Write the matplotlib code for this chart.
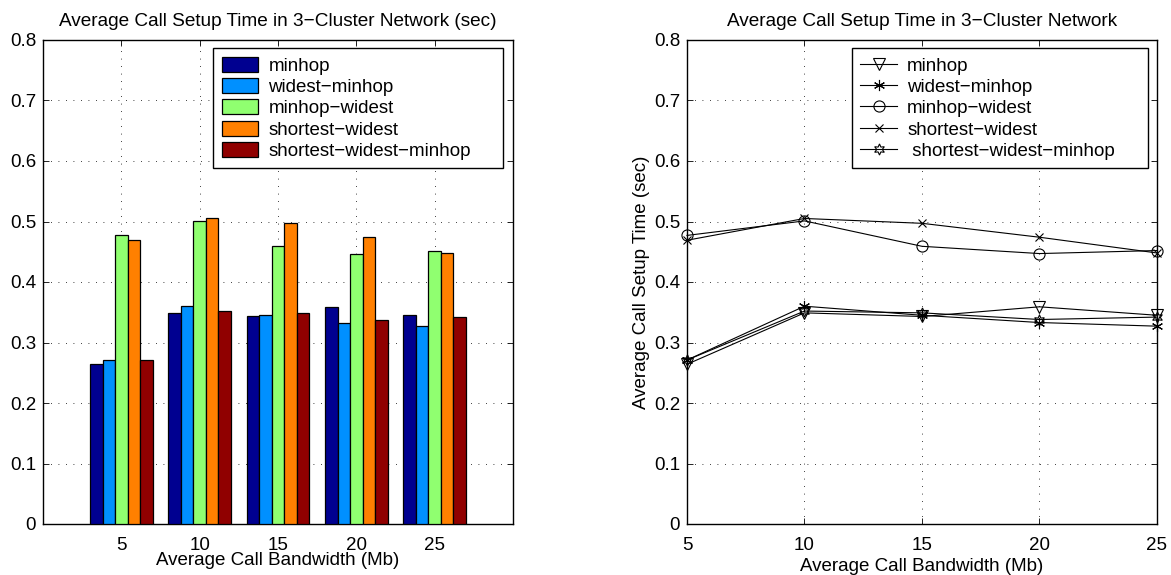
import numpy as np
import matplotlib
matplotlib.use("Agg")
import matplotlib.pyplot as plt

plt.rcParams["font.family"] = ["Liberation Sans", "DejaVu Sans"]
plt.rcParams["font.size"] = 13.5

# data
bandwidth = [5, 10, 15, 20, 25]
schemes = ["minhop", "widest−minhop", "minhop−widest", "shortest−widest", "shortest−widest−minhop"]
minhop = [0.264, 0.349, 0.343, 0.359, 0.345]
widest_minhop = [0.271, 0.360, 0.345, 0.333, 0.327]
minhop_widest = [0.477, 0.501, 0.459, 0.447, 0.452]
shortest_widest = [0.469, 0.505, 0.497, 0.474, 0.448]
shortest_widest_minhop = [0.271, 0.352, 0.349, 0.338, 0.342]
series = [minhop, widest_minhop, minhop_widest, shortest_widest, shortest_widest_minhop]

bar_colors = ["#000090", "#0090FF", "#90FF70", "#FF8000", "#900000"]
markers = ["v", (6, 2, 0), "o", "x", (6, 1, 0)]
marker_sizes = [8, 8, 8, 6, 8]
line_labels = ["minhop", "widest−minhop", "minhop−widest", "shortest−widest", " shortest−widest−minhop"]

W, H = 1171, 575
fig = plt.figure(figsize=(W / 100, H / 100), dpi=100)


def style_axes(ax):
    ax.grid(True, linestyle=(0, (1, 8)), color="black", linewidth=0.6)
    ax.tick_params(direction="in", top=True, right=True, length=4, width=0.6)
    ax.tick_params(axis="x", pad=9)
    ax.tick_params(axis="y", pad=5)
    for s in ax.spines.values():
        s.set_linewidth(1.0)
    ax.set_ylim(0, 0.8)
    ax.set_yticks(np.arange(0, 0.81, 0.1))
    ax.set_yticklabels(["0", "0.1", "0.2", "0.3", "0.4", "0.5", "0.6", "0.7", "0.8"])


def style_legend(ax, x0, w):
    # wide box like matlab's, extra room on the right
    leg = ax.legend(loc="upper left", bbox_to_anchor=(x0, 0.0, w, 0.983), mode="expand",
                    fancybox=False, edgecolor="black", handlelength=1.95, handleheight=0.85,
                    labelspacing=0.18, borderpad=0.45, handletextpad=0.55, framealpha=1,
                    borderaxespad=0, fontsize=13.5)
    leg.get_frame().set_linewidth(1.0)
    return leg


# left: grouped bars
ax1 = fig.add_axes([43 / W, 51 / H, 470 / W, 484 / H])
bw = 0.8
for i, (vals, col, lab) in enumerate(zip(series, bar_colors, schemes)):
    x = np.array(bandwidth) + (i - 2) * bw
    ax1.bar(x, vals, width=bw, color=col, edgecolor="black", linewidth=0.9, label=lab, zorder=3)
ax1.set_xlim(0, 30)
ax1.set_xticks(bandwidth)
style_axes(ax1)
ax1.set_title("Average Call Setup Time in 3−Cluster Network (sec)", fontsize=13.7, pad=10)
ax1.set_xlabel("Average Call Bandwidth (Mb)")
ax1.xaxis.set_label_coords(0.5, -0.057)
style_legend(ax1, 0.362, 0.617)

# right: lines
ax2 = fig.add_axes([687 / W, 51 / H, 470 / W, 484 / H])
for vals, m, ms, lab in zip(series, markers, marker_sizes, line_labels):
    ax2.plot(bandwidth, vals, color="black", linewidth=0.8, marker=m, markersize=ms,
             markerfacecolor="none", markeredgecolor="black", markeredgewidth=0.8,
             label=lab, clip_on=False, zorder=3)
ax2.set_xlim(5, 25)
ax2.set_xticks(bandwidth)
style_axes(ax2)
ax2.set_title("Average Call Setup Time in 3−Cluster Network", fontsize=13.7, pad=10)
ax2.set_xlabel("Average Call Bandwidth (Mb)")
ax2.xaxis.set_label_coords(0.5, -0.071)
ax2.set_ylabel("Average Call Setup Time (sec)")
ax2.yaxis.set_label_coords(-0.078, 0.5)
style_legend(ax2, 0.351, 0.630)

fig.savefig("out.png", dpi=100)
